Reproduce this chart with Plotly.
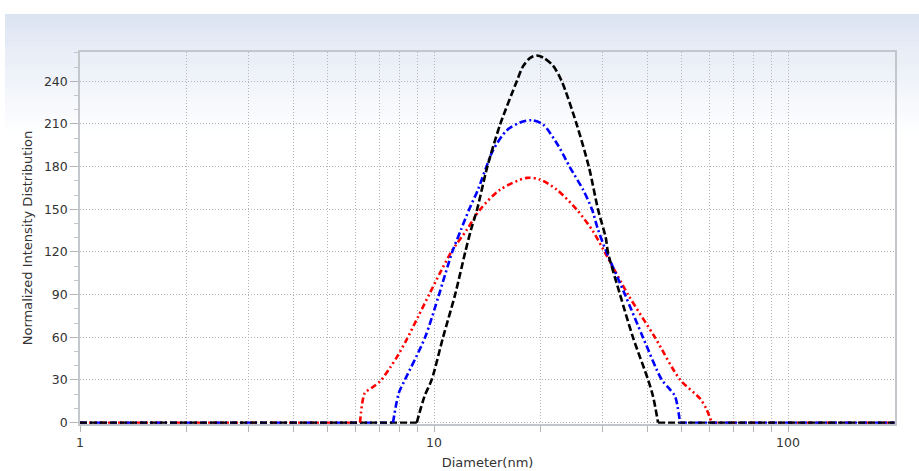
import numpy as np
import plotly.graph_objects as go

# ---- data ----
black_x = [1, 8.94, 9.40, 9.85, 10.60, 11.47, 12.24, 12.72, 13.23, 14.12, 15.37, 17.13, 17.84, 18.70, 19.50,
           20.40, 21.68, 22.95, 25.30, 27.41, 29.06, 30.55, 31.01, 33.53, 36.49, 40.23, 41.55, 42.94, 200]
black_y = [0, 0, 18.5, 30.2, 59.8, 90.0, 119.5, 135.7, 149.8, 179.3, 209.6, 240.0, 250.5, 256.5, 258.1,
           256.5, 251.0, 240.0, 209.6, 179.3, 149.8, 130.1, 119.5, 90.0, 59.8, 30.2, 18.5, 0, 0]

blue_x = [1, 7.66, 7.80, 7.96, 8.28, 9.43, 10.33, 11.24, 11.92, 12.56, 13.31, 14.03, 14.71, 16.05, 17.50,
          18.88, 20.32, 22.40, 24.23, 26.36, 27.95, 29.06, 30.75, 34.63, 38.94, 43.97, 46.42, 47.95, 49.54, 200]
blue_y = [0, 0, 11.5, 21.1, 30.2, 59.8, 90.0, 119.5, 135.7, 149.8, 163.8, 179.3, 192.0, 205.5, 211.0,
          212.6, 209.6, 195.0, 179.3, 163.8, 149.8, 135.7, 119.5, 90.0, 59.8, 30.2, 23.2, 18.5, 0, 0]

red_x = [1, 6.18, 6.38, 6.67, 7.04, 7.51, 7.93, 8.37, 9.03, 9.74, 10.40, 11.22, 12.37, 13.49, 15.37,
         18.28, 19.93, 22.22, 25.30, 28.13, 30.41, 35.32, 42.10, 49.54, 56.40, 58.91, 60.87, 200]
red_y = [0, 0, 20.9, 24.4, 29.0, 38.5, 47.8, 58.4, 74.8, 91.2, 105.3, 120.5, 135.5, 149.8, 163.8,
         172.1, 170.9, 163.8, 149.8, 134.5, 119.5, 90.0, 59.8, 30.2, 16.9, 9.1, 0, 0]

y_ticks = [0, 30, 60, 90, 120, 150, 180, 210, 240]
x_ticks = [1, 10, 100]
x_minor = [2, 3, 4, 5, 6, 7, 8, 9, 20, 30, 40, 50, 60, 70, 80, 90]

W, H = 919, 471
ML, MR, MT, MB = 80, 24, 52, 47
PH = H - MT - MB
PW = W - ML - MR

fig = go.Figure()

series = [
    (red_x, red_y, "#ff0000", "6px,3px,2px,3px,2px,3px"),
    (blue_x, blue_y, "#0000ff", "7px,3px,2px,3px"),
    (black_x, black_y, "#000000", "7px,3px"),
]
for xs, ys, col, dash in series:
    # flat baselines (linear) and the hump (smoothed), all from the same arrays
    fig.add_trace(go.Scatter(x=xs[:2], y=ys[:2], mode="lines",
                             line=dict(color=col, width=2.4, dash=dash),
                             showlegend=False, hoverinfo="skip"))
    fig.add_trace(go.Scatter(x=xs[-2:], y=ys[-2:], mode="lines",
                             line=dict(color=col, width=2.4, dash=dash),
                             showlegend=False, hoverinfo="skip"))
for xs, ys, col, dash in series:
    fig.add_trace(go.Scatter(x=xs[1:-1], y=ys[1:-1], mode="lines",
                             line=dict(color=col, width=2.6, dash=dash,
                                       shape="spline", smoothing=0.8),
                             showlegend=False, hoverinfo="skip"))

# background gradient panel (top band, fading to white)
def py2paper(p):
    return (H - MB - p) / PH

def px2paper(p):
    return (p - ML) / PW

top_c = np.array([219, 227, 242])
n_bands = 30
y0p, y1p = 14, 135
shapes = []
for i in range(n_bands):
    a = y0p + (y1p - y0p) * i / n_bands
    b = y0p + (y1p - y0p) * (i + 1) / n_bands
    t = (i + 0.5) / n_bands
    c = top_c + (np.array([255, 255, 255]) - top_c) * (t ** 0.9)
    col = "rgb(%d,%d,%d)" % tuple(int(round(v)) for v in c)
    shapes.append(dict(type="rect", xref="paper", yref="paper",
                       x0=px2paper(5), x1=px2paper(W + 2),
                       y0=py2paper(b + 0.5), y1=py2paper(a),
                       fillcolor=col, line=dict(width=0), layer="below"))

axis_col = "#c3c7cc"
grid_col = "#b4b4b4"
font_col = "#333333"
gdash = "1px,2px"

fig.update_layout(
    width=W, height=H,
    margin=dict(l=ML, r=MR, t=MT, b=MB),
    paper_bgcolor="white",
    plot_bgcolor="rgba(0,0,0,0)",
    font=dict(family="DejaVu Sans", size=12.5, color=font_col),
    shapes=shapes,
    xaxis=dict(
        type="log", range=[0, np.log10(200.5)], automargin=False,
        tickvals=x_ticks, ticktext=[str(v) for v in x_ticks],
        showgrid=True, gridcolor=grid_col, griddash=gdash, gridwidth=1,
        ticks="outside", ticklen=6, tickcolor=grid_col,
        showline=True, linecolor=axis_col, linewidth=1.5, mirror=True,
        minor=dict(tickvals=x_minor, showgrid=True, gridcolor=grid_col,
                   griddash=gdash, gridwidth=1, ticks="outside", ticklen=6,
                   tickcolor=grid_col),
        title=dict(text="Diameter(nm)", font=dict(size=13, color=font_col), standoff=9),
        zeroline=False,
    ),
    yaxis=dict(
        range=[-1, 260.6], automargin=False,
        tickvals=y_ticks,
        showgrid=True, gridcolor=grid_col, griddash=gdash, gridwidth=1,
        ticks="outside", ticklen=8, tickcolor=grid_col,
        showline=True, linecolor=axis_col, linewidth=1.5, mirror=True,
        minor=dict(dtick=10, tick0=0, ticks="outside", ticklen=4, tickcolor=axis_col, showgrid=False),
        title=dict(text="Normalized Intensity Distribution", font=dict(size=13, color=font_col), standoff=8),
        zeroline=False,
    ),
)

fig.write_html("out.html")
